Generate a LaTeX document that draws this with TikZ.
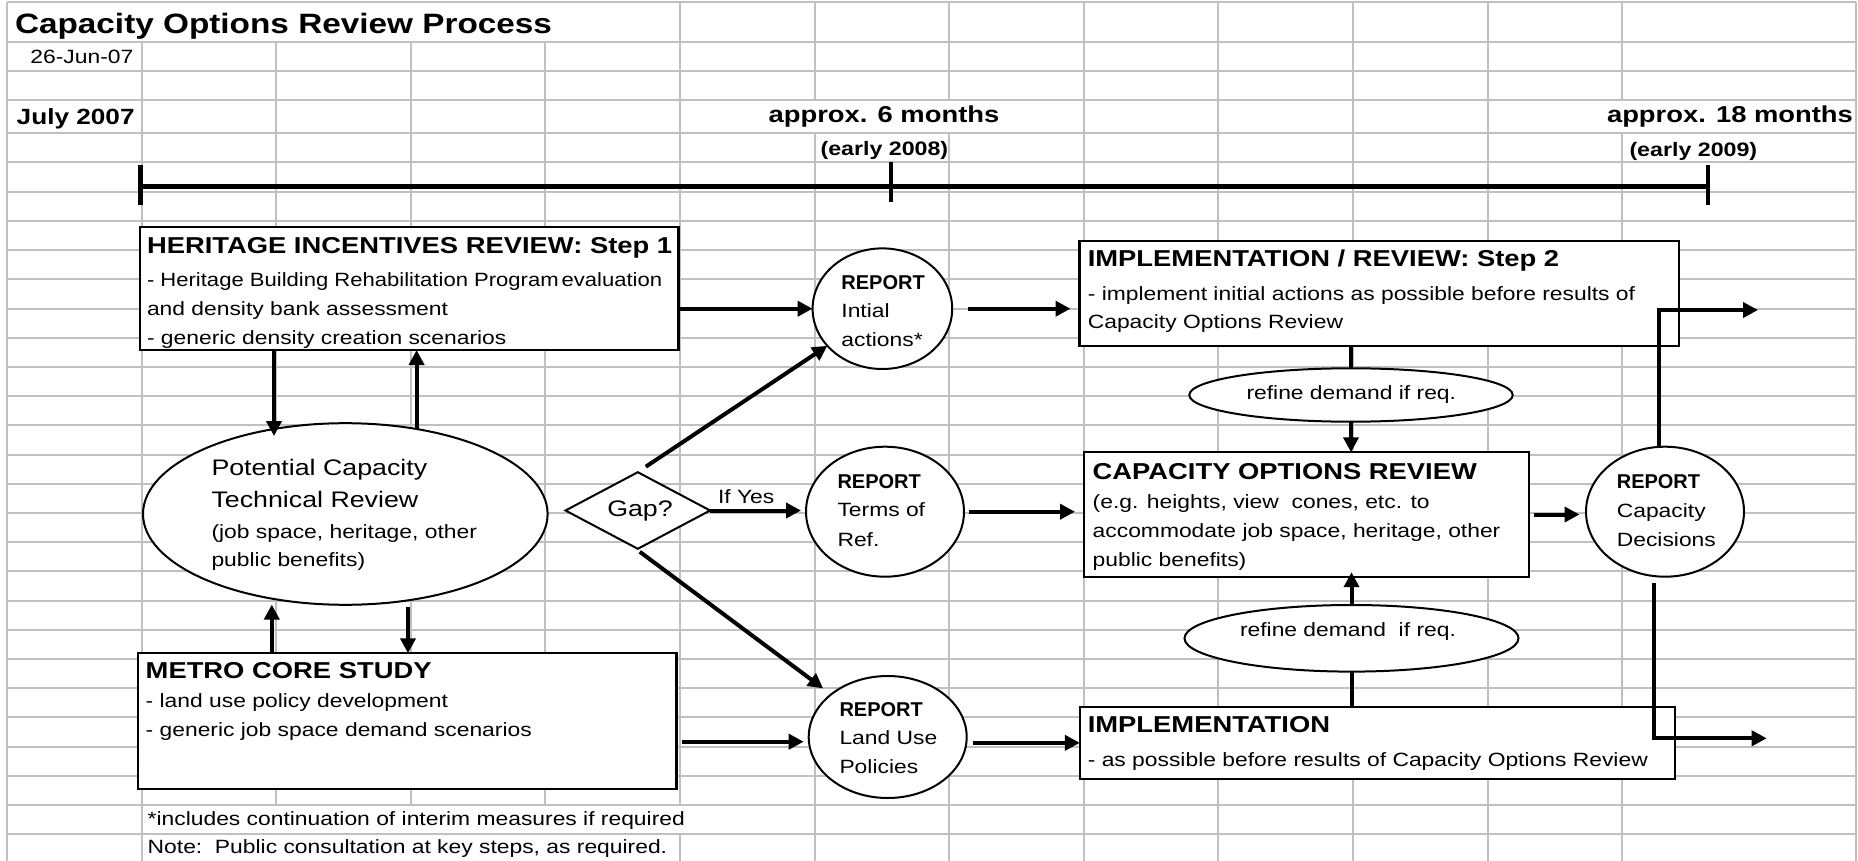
\documentclass[tikz,border=0pt]{standalone}
\usepackage{fontspec}
\usepackage{graphicx}
\setmainfont{Liberation Sans}[FakeStretch=1.19]
\newfontfamily\plainsans{Liberation Sans}
\usetikzlibrary{shapes.geometric,arrows.meta}
\definecolor{gridgray}{RGB}{192,192,192}
\newcommand\mybody{\fontsize{19.2}{23}\selectfont}
\newcommand\myhead{\fontsize{23}{27}\selectfont\bfseries}
\newcommand\mylabel{\fontsize{22}{27}\selectfont\bfseries}
\newcommand\mybig{\fontsize{22.5}{27}\selectfont}
\newcommand\mytitle{\fontsize{28}{32}\selectfont\bfseries}
\newcommand\mysub{\fontsize{19.5}{23}\selectfont\bfseries}
\newcommand\myrep{\plainsans\bfseries\fontsize{20}{24}\selectfont}
\begin{document}
\begin{tikzpicture}[x=1pt,y=-1pt,
  gridline/.style={draw=gridgray,line width=2pt},
  boxshape/.style={rectangle,draw,fill=white,line width=2.2pt,inner sep=0pt,outer sep=0pt,anchor=north west},
  ellshape/.style={ellipse,draw,fill=white,line width=2pt,inner sep=0pt,outer sep=0pt},
  arr/.style={line width=4pt,-{Triangle[length=15pt,width=15pt]}},
  conn/.style={line width=4pt},
  tl/.style={line width=4.5pt},
  txt/.style={anchor=base west,inner sep=0pt,outer sep=0pt,font=\mybody},
  hd/.style={txt,font=\myhead},
]
\useasboundingbox (0,0) rectangle (1858,861);
\fill[white] (0,0) rectangle (1858,861);
% grid
\foreach \y in {2,41.7,70.7,100,133.3} \draw[gridline] (7,\y) -- (1855.5,\y);
\foreach \k in {1,...,24} \draw[gridline] (7,{133.3+29.2*\k}) -- (1855.5,{133.3+29.2*\k});
\draw[gridline] (7,2) -- (7,861);
\draw[gridline] (1855.5,2) -- (1855.5,861);
\foreach \k in {0,...,11} \draw[gridline] ({141.6+134.6*\k},2) -- ({141.6+134.6*\k},861);
% cells where text runs over the grid
\fill[white] (8.1,3) rectangle (678.9,40.7);
\fill[white] (700,101) rectangle (1060,132.3);
\fill[white] (1560,101) rectangle (1853,132.3);
\fill[white] (142.7,805.9) rectangle (813.5,833.1);
\fill[white] (142.7,835.1) rectangle (678.9,861);
% timeline
\draw[tl] (140.5,186.7) -- (1708,186.7);
\draw[tl] (140.5,165) -- (140.5,205);
\draw[tl] (890.9,161.7) -- (890.9,201.7);
\draw[tl] (1707.8,165) -- (1707.8,205);
% shapes
\node[boxshape,minimum width=538.9pt,minimum height=122.7pt] (her) at (139.6,227.3) {};
\node[ellshape,minimum width=404.6pt,minimum height=181.6pt] (pct) at (345.3,514) {};
\node[diamond,draw,fill=white,line width=2pt,inner sep=0pt,outer sep=0pt,minimum width=144.6pt,minimum height=76.6pt] (gap) at (637.8,510.5) {};
\node[boxshape,minimum width=538.8pt,minimum height=135.7pt] (metro) at (137.7,653.3) {};
\node[ellshape,minimum width=139.6pt,minimum height=120.6pt] (r1) at (882.4,308.7) {};
\node[ellshape,minimum width=158pt,minimum height=130pt] (r2) at (885,511.7) {};
\node[ellshape,minimum width=158pt,minimum height=122pt] (r3) at (887.7,737) {};
\node[boxshape,minimum width=599.5pt,minimum height=105.3pt] (step2) at (1079.5,240.7) {};
\node[ellshape,minimum width=323.4pt,minimum height=53.4pt] (ref1) at (1351,395) {};
\node[boxshape,minimum width=444.6pt,minimum height=124.4pt] (cap) at (1084,452.3) {};
\node[ellshape,minimum width=334pt,minimum height=66.6pt] (ref2) at (1351.5,638.3) {};
\node[boxshape,minimum width=595.1pt,minimum height=72.3pt] (impl) at (1079.9,706.7) {};
\node[ellshape,minimum width=158pt,minimum height=130pt] (r4) at (1665,511.7) {};
\coordinate (out1) at (1758,310);
\coordinate (out2) at (1766.7,738.3);
% connectors
\draw[arr] (her.east |- r1.west) -- (r1.west);
\draw[arr,shorten <=16pt,shorten >=9pt] (r1.east) -- (step2.west |- r1.east);
\draw[arr] ([xshift=8pt,yshift=5.5pt]gap.north) -- (r1.214);
\draw[arr,shorten >=5pt] (gap.east) -- (r2.west |- gap.east);
\draw[arr,shorten <=5pt,shorten >=9pt] (r2.east) -- (cap.west |- r2.east);
\draw[arr,shorten >=10pt] ([xshift=2pt,yshift=-3pt]gap.south) -- (r3.143);
\draw[arr,shorten <=5pt,shorten >=5pt] (metro.east |- 0,741.7) -- (r3.west |- 0,741.7);
\draw[arr,shorten <=6pt] (r3.east |- impl.west) -- (impl.west);
\draw[arr] (her.south -| pct.130.5) -- ([yshift=-7pt]pct.130.5);
\draw[arr] (pct.50.3) -- (her.south -| pct.50.3);
\draw[arr] (metro.north -| pct.229.7) -- ([yshift=-6pt]pct.229.7);
\draw[arr,shorten <=6.5pt] (pct.306.6) -- (metro.north -| pct.306.6);
\draw[conn] (step2.south -| ref1.north) -- (ref1.north);
\draw[arr] (ref1.south) -- (cap.north -| ref1.south);
\draw[arr,shorten >=-4.5pt] (ref2.north) -- (cap.south -| ref2.north);
\draw[conn] (impl.north -| ref2.south) -- (ref2.south);
\draw[arr,shorten <=5pt,shorten >=6.5pt] (cap.east) -- (r4.west |- cap.east);
\draw[arr] ([xshift=-6pt]r4.north) |- (out1);
\draw[arr] ([xshift=-10.6pt,yshift=-6.6pt]r4.south) |- (out2);
% texts
\node[txt,font=\mytitle] (title) at (15,33.3) {Capacity Options Review Process};
\node[txt,anchor=base east] (date) at (133.3,63.3) {26-Jun-07};
\node[txt,font=\mylabel] (july) at (16.7,125) {July 2007};
\node[txt,anchor=base,font=\myhead] (six) at (884,122.7) {approx. 6 months};
\node[txt,anchor=base,font=\mysub] (e08) at (884.4,156) {(early 2008)};
\node[txt,anchor=base east,font=\myhead] (eighteen) at (1852.9,122.7) {approx. 18 months};
\node[txt,font=\mysub] (e09) at (1629.5,156.7) {(early 2009)};
\node[hd] (herT) at (147,253.3) {HERITAGE INCENTIVES REVIEW: Step 1};
\node[txt] (herA) at (147,286) {\scalebox{0.965}[1]{- Heritage Building Rehabilitation Program\hspace{3pt}evaluation}};
\node[txt] (herB) at (147,315) {and density bank assessment};
\node[txt] (herC) at (147,344) {- generic density creation scenarios};
\node[txt,font=\mybig] (pctA) at (211.5,475) {Potential Capacity};
\node[txt,font=\mybig] (pctB) at (211.5,507) {Technical Review};
\node[txt] (pctC) at (211.5,538) {(job space, heritage, other};
\node[txt] (pctD) at (211.5,566.7) {public benefits)};
\node[txt,anchor=base,font=\mybig] (gapT) at (640,516) {Gap?};
\node[txt] (ifyes) at (718,503.3) {If Yes};
\node[txt,font=\myrep] (r1A) at (841.4,289) {REPORT};
\node[txt] (r1B) at (841.4,317.3) {Intial};
\node[txt] (r1C) at (841.4,346.7) {actions*};
\node[txt,font=\myrep] (r2A) at (837.5,488.3) {REPORT};
\node[txt] (r2B) at (837.5,516.7) {Terms of};
\node[txt] (r2C) at (837.5,546) {Ref.};
\node[txt,font=\myrep] (r3A) at (839.5,716) {REPORT};
\node[txt] (r3B) at (839.5,744.5) {Land Use};
\node[txt] (r3C) at (839.5,773.3) {Policies};
\node[txt,font=\myrep] (r4A) at (1616.8,488.3) {REPORT};
\node[txt] (r4B) at (1616.8,517.7) {Capacity};
\node[txt] (r4C) at (1616.8,546) {Decisions};
\node[hd] (s2T) at (1087.8,266.7) {IMPLEMENTATION / REVIEW: Step 2};
\node[txt] (s2A) at (1087.8,300) {- implement initial actions as possible before results of};
\node[txt] (s2B) at (1087.8,328.3) {Capacity Options Review};
\node[txt] (ref1T) at (1246.5,399) {refine demand if req.};
\node[hd] (capT) at (1092.7,479.3) {CAPACITY OPTIONS REVIEW};
\node[txt] (capA) at (1092.7,508.3) {(e.g. heights, view\ \ cones, etc. to};
\node[txt] (capB) at (1092.7,537.3) {accommodate job space, heritage, other};
\node[txt] (capC) at (1092.7,566) {public benefits)};
\node[txt] (ref2T) at (1240,636.7) {refine demand\ \ if req.};
\node[hd] (implT) at (1087.8,732.7) {IMPLEMENTATION};
\node[txt] (implA) at (1087.8,766.7) {- as possible before results of Capacity Options Review};
\node[hd] (metT) at (145.7,678.3) {METRO CORE STUDY};
\node[txt] (metA) at (145.7,707.7) {- land use policy development};
\node[txt] (metB) at (145.7,736.7) {- generic job space demand scenarios};
\node[txt] (n1) at (147.7,825) {*includes continuation of interim measures if required};
\node[txt] (n2) at (147.7,853.3) {Note:\ \ Public consultation at key steps, as required.};
\end{tikzpicture}
\end{document}
